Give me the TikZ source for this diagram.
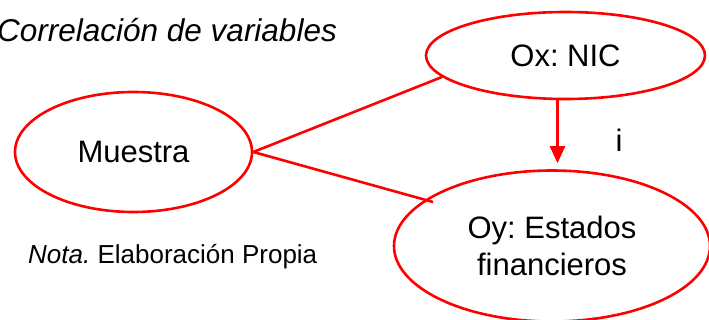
\documentclass[tikz,border=0pt]{standalone}
\usepackage{fontspec}
\setmainfont{Liberation Sans}
\usetikzlibrary{shapes.geometric,arrows.meta}
\definecolor{lred}{RGB}{255,0,0}
\frenchspacing
\tikzset{
  oval/.style={ellipse, draw=lred, line width=2.6pt, inner sep=0pt, fill=white,
    font=\fontsize{31}{37}\selectfont, align=center},
  link/.style={draw=lred, line width=2.6pt},
  txt/.style={inner sep=0pt, font=\fontsize{31}{37}\selectfont}
}
\begin{document}
\begin{tikzpicture}[x=1pt,y=-1pt]
\useasboundingbox (0,0) rectangle (709,320);
\node[txt, anchor=base west, font=\fontsize{31.5}{37}\selectfont\itshape] (title) at (-3,42) {Correlación de variables};
\node[oval, minimum width=237pt, minimum height=120pt] (Mu) at (133.5,152) {Muestra};
\node[oval, minimum width=279pt, minimum height=87pt] (Ox) at (565.5,55.5) {Ox: NIC};
\node[oval, minimum width=316pt, minimum height=151pt, fill=none] (Oy) at (552,246) {Oy: Estados\\financieros};
\coordinate (p1) at (442,77);
\coordinate (p2) at (433,202);
\draw[link] (Mu.east) -- (p1);
\draw[link] (Mu.east) -- (p2);
\coordinate (a1) at (557.5,99);
\draw[link, -{Triangle[width=15pt,length=17pt]}, shorten >=6pt] (a1) -- (a1 |- Oy.north);
\node[txt, anchor=base] (ilabel) at (619,152) {i};
\node[txt, anchor=base west, font=\fontsize{26}{31}\selectfont] (nota) at (28,264) {\textit{Nota.} Elaboración Propia};
\end{tikzpicture}
\end{document}
